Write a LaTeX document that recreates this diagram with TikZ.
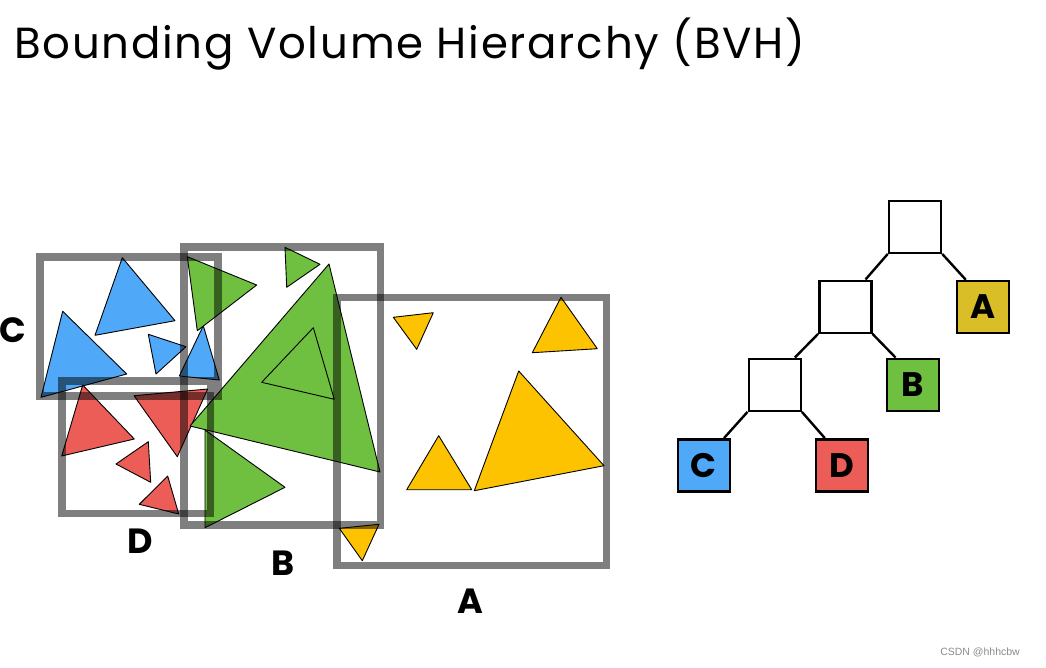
\documentclass[tikz,border=0pt]{standalone}
\usepackage{fontspec}
\setmainfont{Poppins}
\newfontfamily\titlefont[LetterSpace=4]{Poppins}
\newfontfamily\markfont{Liberation Sans}
\usepackage{tikz}
\usetikzlibrary{positioning}
\definecolor{bvblue}{HTML}{50A8F8}
\definecolor{bvgreen}{HTML}{6FBF40}
\definecolor{bvred}{HTML}{EC5D57}
\definecolor{bvyellow}{HTML}{FEC300}
\definecolor{bvmustard}{HTML}{DABE27}

\begin{document}
\begin{tikzpicture}[x=1pt, y=-1pt,
                  tri/.style={draw=black, line width=0.9pt, line join=round},
                  bvbox/.style={draw=black, draw opacity=0.5, line width=7.5pt},
                  lbl/.style={font=\fontsize{35}{40}\selectfont\bfseries, inner sep=0pt},
                  tnode/.style={draw, line width=2.4pt, minimum size=52pt, inner sep=0pt,
                                font=\fontsize{34}{40}\selectfont\bfseries},
                  edge/.style={line width=2.4pt},
            ]
            \useasboundingbox[fill=white] (0,0) rectangle (1046,667);

            % Title
            \node[anchor=base west, inner sep=0pt, font=\titlefont\fontsize{43.5}{50}\selectfont] (title)
                  at (14,58) {Bounding Volume Hierarchy (BVH)};

            % Triangles of C
            \draw[tri, fill=bvblue] (122.3,257.7) -- (95,335.3) -- (175,320.7) -- cycle;
            \draw[tri, fill=bvblue] (62.7,311.3) -- (41,397.3) -- (126.7,374) -- cycle;
            \draw[tri, fill=bvblue] (148.3,334.3) -- (156,374) -- (186,346.7) -- cycle;
            \draw[tri, fill=bvblue] (203.3,325.7) -- (179.3,376) -- (219.3,380) -- cycle;

            % Triangles of D
            \draw[tri, fill=bvred] (82.7,385) -- (61.7,456) -- (134.3,439) -- cycle;
            \draw[tri, fill=bvred] (134,395.7) -- (207.7,389) -- (177.3,456.7) -- cycle;
            \draw[tri, fill=bvred] (148.3,441.7) -- (116,464) -- (150.7,482.3) -- cycle;
            \draw[tri, fill=bvred] (167.7,476) -- (139.3,504.3) -- (178.7,514) -- cycle;

            % Triangles of B
            \draw[tri, fill=bvgreen] (187.3,256.7) -- (256.7,285) -- (197.3,330.7) -- cycle;
            \draw[tri, fill=bvgreen] (285,247.3) -- (320,264.3) -- (286.7,287.3) -- cycle;
            \draw[tri, fill=bvgreen] (329,264) -- (380,472) -- (190,426) -- cycle;
            \draw[tri, fill=bvgreen] (313.3,327.7) -- (261.7,382.3) -- (334.3,399.3) -- cycle;
            \draw[tri, fill=bvgreen] (205,430) -- (285,487.3) -- (205,527.7) -- cycle;

            % Triangles of A
            \draw[tri, fill=bvyellow] (393.3,317.3) -- (433.3,312.7) -- (416.7,349.3) -- cycle;
            \draw[tri, fill=bvyellow] (561,297.3) -- (532.3,352.7) -- (597.3,348.7) -- cycle;
            \draw[tri, fill=bvyellow] (438.7,435.7) -- (406.7,489.7) -- (471.7,489.7) -- cycle;
            \draw[tri, fill=bvyellow] (518.7,371) -- (474.3,490.7) -- (604,465.7) -- cycle;
            \draw[tri, fill=bvyellow] (339.3,528.3) -- (379,524.3) -- (362.3,560.7) -- cycle;

            % Bounding boxes (drawn over the triangles)
            \draw[bvbox] (40,257) rectangle (218,396);
            \draw[bvbox] (62,381) rectangle (210.5,513.5);
            \draw[bvbox] (184,247) rectangle (380.5,525);
            \draw[bvbox] (337,297.5) rectangle (606.5,565.5);

            % Box labels
            \node[lbl] (labC) at (12.5,330) {C};
            \node[lbl] (labD) at (140,541) {D};
            \node[lbl] (labB) at (283,563) {B};
            \node[lbl] (labA) at (470,601) {A};

            % Tree
            \node[tnode] (root) at (915,226.7) {};
            \node[tnode] (inner1) at (845.3,306.7) {};
            \node[tnode] (inner2) at (774.7,384.7) {};
            \node[tnode, fill=bvmustard] (leafA) at (983,307) {A};
            \node[tnode, fill=bvgreen] (leafB) at (912.7,384.7) {B};
            \node[tnode, fill=bvblue] (leafC) at (703.8,465.3) {C};
            \node[tnode, fill=bvred] (leafD) at (842,465.3) {D};

            % Tree edges
            \draw[edge] (root.south west) -- ([xshift=-7]inner1.north east);
            \draw[edge] (root.south east) -- ([xshift=10]leafA.north west);
            \draw[edge] (inner1.south west) -- ([xshift=-7]inner2.north east);
            \draw[edge] (inner1.south east) -- ([xshift=10]leafB.north west);
            \draw[edge] (inner2.south west) -- ([xshift=-7]leafC.north east);
            \draw[edge] (inner2.south east) -- ([xshift=10]leafD.north west);

            % Watermark
            \node[anchor=east, inner sep=0pt, text=black!45, font=\markfont\fontsize{10.5}{12}\selectfont]
                  (mark) at (1020,652) {CSDN @hhhcbw};

      \end{tikzpicture}
\end{document}
